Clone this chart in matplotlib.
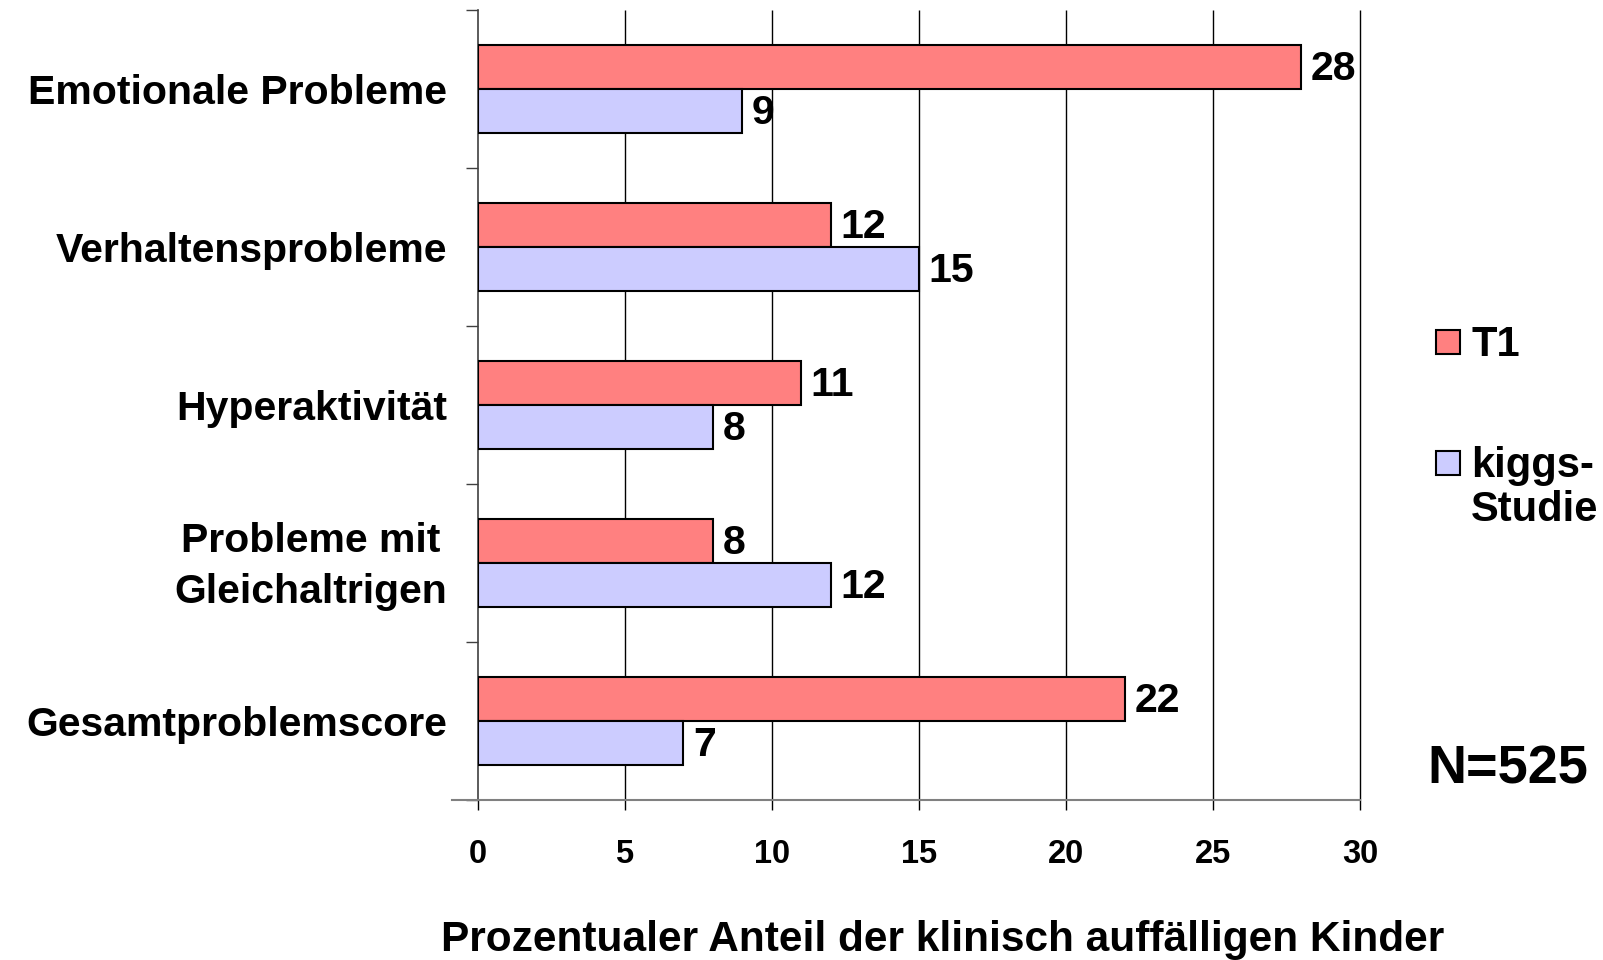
import matplotlib.pyplot as plt
from matplotlib.patches import Rectangle
from matplotlib.transforms import ScaledTranslation
import numpy as np

plt.rcParams['font.family'] = ['Liberation Sans', 'DejaVu Sans']
plt.rcParams['font.weight'] = 'bold'

# data
categories = ['Emotionale Probleme', 'Verhaltensprobleme', 'Hyperaktivität',
              'Probleme mit\nGleichaltrigen', 'Gesamtproblemscore']
t1_vals = [28, 12, 11, 8, 22]
kiggs_vals = [9, 15, 8, 12, 7]
series_names = ['T1', 'kiggs-\nStudie']
colors = ['#FF8080', '#CCCCFF']
xticks = [0, 5, 10, 15, 20, 25, 30]

W, H = 1603, 960
fig = plt.figure(figsize=(W / 100, H / 100), dpi=100)
ax = fig.add_axes([477.5 / W, 1 - 800 / H, (1360 - 477.5) / W, 790 / H])

y = np.arange(len(categories))
bh = 0.28
b1 = ax.barh(y - bh / 2, t1_vals, height=bh, color=colors[0], edgecolor='black', linewidth=1.5, zorder=3)
b2 = ax.barh(y + bh / 2, kiggs_vals, height=bh, color=colors[1], edgecolor='black', linewidth=1.5, zorder=3)

for bars, vals in ((b1, t1_vals), (b2, kiggs_vals)):
    for b, v in zip(bars, vals):
        ax.text(v + 0.33, b.get_y() + b.get_height() / 2 + 0.015, str(v), ha='left', va='center',
                fontsize=29.5, fontweight='bold')

ax.set_xlim(0, 30)
ax.set_ylim(len(categories) - 0.5, -0.5)
ax.set_xticks(xticks)
ax.set_xticklabels([str(t) for t in xticks], fontsize=23.5, fontweight='bold')
ax.tick_params(axis='x', direction='out', length=7, width=1, pad=21, color='black')
ax.vlines(xticks[1:], len(categories) - 0.5, -0.5, color='black', linewidth=1,
          zorder=0, clip_on=False)

ax.set_yticks(y)
ax.set_yticklabels(categories, fontsize=29.5, fontweight='bold', multialignment='center',
                   linespacing=1.42)
ax.tick_params(axis='y', which='major', length=0, pad=22)
ax.set_yticks(np.arange(-0.5, len(categories)), minor=True)
ax.tick_params(axis='y', which='minor', direction='out', length=9, width=1, color='#404040')
# two-line label sits a bit higher in the original
for lab in ax.get_yticklabels():
    if '\n' in lab.get_text():
        lab.set_transform(lab.get_transform() + ScaledTranslation(0, 5 / 72, fig.dpi_scale_trans))

for s in ('top', 'right', 'bottom'):
    ax.spines[s].set_visible(False)
ax.spines['left'].set_color('#404040')
ax.spines['left'].set_linewidth(1.2)
# bottom axis line, slightly longer on the left like the original
ax.plot([-0.85, 30], [len(categories) - 0.5] * 2, color='#808080', linewidth=1.5,
        clip_on=False, zorder=4)

ax.set_xlabel('Prozentualer Anteil der klinisch auffälligen Kinder', fontsize=30.5,
              fontweight='bold', labelpad=36)
ax.xaxis.label.set_x(0.527)

# legend
leg_y = [342, 463]
for name, c, ly in zip(series_names, colors, leg_y):
    fig.add_artist(Rectangle((1436 / W, 1 - (ly + 12) / H), 24 / W, 24 / H,
                             transform=fig.transFigure, facecolor=c, edgecolor='black',
                             linewidth=1.5))
    for k, line in enumerate(name.split('\n')):
        fig.text(1471 / W, 1 - (ly + 3 + 44 * k) / H, line, ha='left', va='center',
                 fontsize=30, fontweight='bold')

fig.text(1508 / W, 1 - 769 / H, 'N=525', ha='center', va='center', fontsize=39,
         fontweight='bold')

fig.savefig('out.png', dpi=100)
